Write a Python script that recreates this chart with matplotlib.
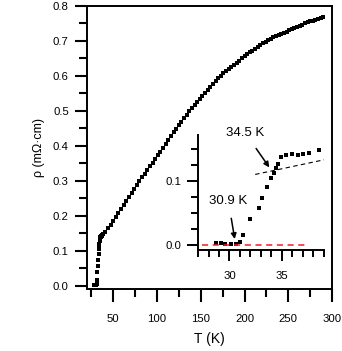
import matplotlib
matplotlib.use("Agg")
import matplotlib.pyplot as plt
from matplotlib.ticker import MultipleLocator

plt.rcParams['font.family'] = ['Liberation Sans', 'DejaVu Sans']

# Low-temperature (transition) data
T_low = [28.7, 29.15, 29.6, 30.1, 30.6, 31.0, 31.3, 32.0, 32.8, 33.1, 33.6,
         34.0, 34.2, 34.4, 34.65, 34.9, 35.4, 36.0, 36.5, 37.0, 37.6, 38.5]
rho_low = [0.003, 0.003, 0.0015, 0.0015, 0.0015, 0.005, 0.016, 0.041, 0.057,
           0.073, 0.090, 0.104, 0.113, 0.120, 0.127, 0.137, 0.140, 0.142,
           0.140, 0.142, 0.144, 0.148]

# Normal-state data
T_high = [41, 44, 47, 50, 53, 56, 59, 62, 65, 68, 71, 74, 77, 80, 83, 86, 89,
          92, 95, 98, 101, 104, 107, 110, 113, 116, 119, 122, 125, 128, 131,
          134, 137, 140, 143, 146, 149, 152, 155, 158, 161, 164, 167, 170,
          173, 176, 179, 182, 185, 188, 191, 194, 197, 200, 203, 206, 209,
          212, 215, 218, 221, 224, 227, 230, 233, 236, 239, 242, 245, 248,
          251, 254, 257, 260, 263, 266, 269, 272, 275, 278, 281, 284, 287, 290]
rho_high = [0.154, 0.165, 0.175, 0.186, 0.197, 0.209, 0.221, 0.232, 0.243,
            0.254, 0.265, 0.276, 0.288, 0.299, 0.310, 0.321, 0.332, 0.342,
            0.352, 0.362, 0.373, 0.384, 0.395, 0.406, 0.417, 0.428, 0.439,
            0.449, 0.459, 0.469, 0.479, 0.489, 0.499, 0.508, 0.517, 0.526,
            0.535, 0.544, 0.552, 0.561, 0.569, 0.577, 0.585, 0.593, 0.600,
            0.607, 0.614, 0.620, 0.626, 0.632, 0.638, 0.644, 0.650, 0.656,
            0.662, 0.667, 0.672, 0.678, 0.683, 0.688, 0.693, 0.698, 0.702,
            0.706, 0.710, 0.714, 0.717, 0.720, 0.723, 0.727, 0.730, 0.733,
            0.736, 0.740, 0.744, 0.747, 0.750, 0.753, 0.756, 0.758, 0.761,
            0.763, 0.766, 0.768]

T_all = T_low + T_high
rho_all = rho_low + rho_high

# Guide lines in inset
fit_T = [32.45, 39.05]
fit_rho = [0.110, 0.133]
zero_T = [27.4, 37.5]
zero_rho = [0.0, 0.0]

main_xticks = [50, 100, 150, 200, 250, 300]
main_yticks = [0.0, 0.1, 0.2, 0.3, 0.4, 0.5, 0.6, 0.7, 0.8]
inset_xticks = [30, 35]
inset_yticks = [0.0, 0.1]

fig = plt.figure(figsize=(3.42, 3.51), dpi=100)
ax = fig.add_axes([0.254, 0.177, 0.717, 0.806])
ax.plot(T_all, rho_all, 's', color='black', markersize=2.5, markeredgewidth=0)
ax.set_xlim(20, 300)
ax.set_ylim(-0.0086, 0.8)
ax.set_xticks(main_xticks)
ax.set_yticks(main_yticks)
ax.set_yticklabels([f"{v:.1f}" for v in main_yticks])
ax.xaxis.set_minor_locator(MultipleLocator(25))
ax.yaxis.set_minor_locator(MultipleLocator(0.05))
ax.tick_params(which='both', direction='out', width=1.5, labelsize=8.2)
ax.tick_params(which='major', length=9, pad=4)
ax.tick_params(which='minor', length=5.5)
ax.tick_params(axis='x', which='major', pad=9)
for s in ax.spines.values():
    s.set_linewidth(1.4)
ax.set_xlabel("T (K)", fontsize=10, labelpad=6)
ax.set_ylabel("ρ (mΩ·cm)", fontsize=9, labelpad=6)

ins = fig.add_axes([0.579, 0.288, 0.368, 0.328])
ins.patch.set_alpha(0)
ins.plot(T_all, rho_all, 's', color='black', markersize=2.4, markeredgewidth=0)
ins.plot(fit_T, fit_rho, '--', color='black', linewidth=0.8, dashes=(4, 3))
ins.plot(zero_T, zero_rho, '--', color='#ee1c25', linewidth=1.1, dashes=(4, 3))
ins.set_xlim(27, 39)
ins.set_ylim(-0.008, 0.172)
ins.spines['top'].set_visible(False)
ins.spines['right'].set_visible(False)
for s in ['left', 'bottom']:
    ins.spines[s].set_linewidth(1.4)
ins.set_xticks(inset_xticks)
ins.set_yticks(inset_yticks)
ins.set_yticklabels([f"{v:.1f}" for v in inset_yticks])
ins.xaxis.set_minor_locator(MultipleLocator(1))
ins.yaxis.set_minor_locator(MultipleLocator(0.025))
ins.tick_params(which='both', direction='out', width=1.4, labelsize=8.2)
ins.tick_params(which='major', length=8, pad=4)
ins.tick_params(which='minor', length=5)
ins.tick_params(axis='x', which='major', pad=7)

ins.annotate("34.5 K", xy=(33.8, 0.121), xytext=(31.5, 0.175),
             ha='center', va='center', fontsize=9.5, annotation_clip=False,
             arrowprops=dict(arrowstyle='-|>', color='black', lw=1.1,
                             mutation_scale=8, shrinkA=6, shrinkB=0))
ins.annotate("30.9 K", xy=(30.5, 0.009), xytext=(29.9, 0.068),
             ha='center', va='center', fontsize=9.5,
             arrowprops=dict(arrowstyle='-|>', color='black', lw=1.1,
                             mutation_scale=8, shrinkA=6, shrinkB=0))

fig.savefig("out.png", dpi=100)
